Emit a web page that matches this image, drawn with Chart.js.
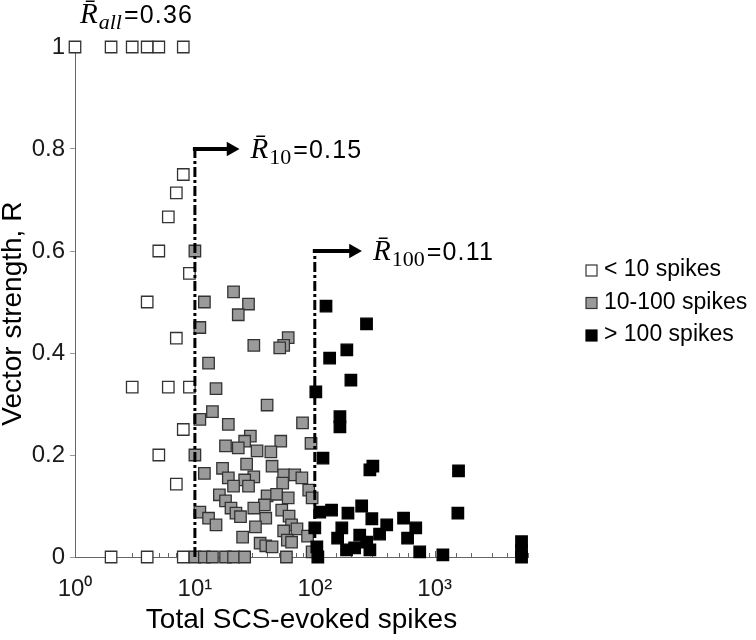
<!DOCTYPE html>
<html><head><meta charset="utf-8">
<script src="https://cdn.jsdelivr.net/npm/chart.js@4"></script>
<style>html,body{margin:0;padding:0;background:#fff}#wrap{width:756px;height:640px}</style>
</head><body><div id="wrap"><canvas id="c" width="756" height="640"></canvas></div>
<script>
// ---- data ----
const lowCounts = [1,2,3,4,5,8, 8,7,6,5,9,4,7, 3,6,9,8,5,7, 2,4,8];
const lowR      = [1,1,1,1,1,1, 0.75,0.714,0.667,0.6,0.556,0.5,0.429, 0.333,0.333,0.333,0.25,0.2,0.143, 0,0,0];

const midCounts = [10,12,21,28,23,11,31,60,55,51,13,15,40,14,
  11,19,79,29,26,18,23,52,33,43,93,10,27,12,17,44,19,31,26,21,28,55,68,78,54,89,16,40,48,60,95,18,20,38,31,22,53,11,24,39,61,13,15,32,64,71,55,25,87,59,64,35,39,44,95,
  10,12,14,18,21,26,58];
const midR = [0.6,0.5,0.52,0.496,0.475,0.45,0.415,0.43,0.415,0.41,0.38,0.33,0.298,0.285,
  0.27,0.26,0.263,0.237,0.227,0.218,0.214,0.227,0.208,0.206,0.223,0.2,0.182,0.164,0.174,0.178,0.155,0.157,0.151,0.139,0.139,0.161,0.161,0.155,0.145,0.131,0.122,0.12,0.123,0.116,0.116,0.11,0.096,0.102,0.096,0.086,0.092,0.088,0.079,0.076,0.08,0.076,0.063,0.059,0.063,0.055,0.051,0.039,0.041,0.033,0.029,0.027,0.022,0.02,0.01,
  0,0,0,0,0,0,0];

const highCounts = [124,270,133,185,200,102,162,162,117,305,288,1580,1560,
  110,138,189,246,299,550,398,695,168,100,237,347,594,155,271,184,215,288,104,106,750,1170,5300,5300,5300];
const highR = [0.492,0.457,0.39,0.406,0.347,0.324,0.275,0.255,0.194,0.178,0.171,0.169,0.086,
  0.088,0.092,0.086,0.1,0.075,0.076,0.063,0.057,0.057,0.057,0.043,0.045,0.037,0.037,0.029,0.014,0.018,0.014,0.02,0,0.01,0.004,0.03,0.013,0];

const thresholds = [10, 100];        // spike-count cut-offs
const thresholdR = [0.8, 0.6];       // height of the threshold markers
const arrowEnds  = [20, 210];        // arrow head positions (spikes)
const meanSubs   = ['all', '10', '100'];
const meanValues = [0.36, 0.15, 0.11];
const legendLabels = ['< 10 spikes', '10-100 spikes', '> 100 spikes'];
const xTickValues = [1, 10, 100, 1000];
const xTickLabels = ['10\u2070', '10\u00B9', '10\u00B2', '10\u00B3'];
const yTickLabels = ['0', '0.2', '0.4', '0.6', '0.8', '1'];

// ---- chart ----
const SANS = '"Liberation Sans", Arial, sans-serif';
const SERIF = '"Liberation Serif", "Times New Roman", serif';
Chart.defaults.font.family = SANS;

function pts(xs, ys){ return xs.map((x,i)=>({x, y: ys[i]})); }
function markers(label, xs, ys, fill, border){
  return { label, data: pts(xs, ys), pointStyle:'rect', pointRadius:8.1, pointHoverRadius:8.1,
    backgroundColor: fill, borderColor: border, pointBorderWidth:1.3, showLine:false, clip:false };
}
function threshLine(i){
  return { label:'t'+i, data:[{x:thresholds[i],y:0},{x:thresholds[i],y:thresholdR[i]}], showLine:true,
    pointRadius:0, borderColor:'#000', borderWidth:3, borderDash:[10,3,3,3], borderCapStyle:'butt', clip:false };
}
function arrow(i){
  return { label:'a'+i, data:[{x:thresholds[i],y:thresholdR[i]},{x:arrowEnds[i],y:thresholdR[i]}], showLine:true,
    pointRadius:[0,8.5], pointStyle:'triangle', rotation:90, pointBackgroundColor:'#000', pointBorderColor:'#000',
    pointBorderWidth:0, borderColor:'#000', borderWidth:4, borderCapStyle:'square', clip:false };
}

const datasets = [
  arrow(0), arrow(1), threshLine(0), threshLine(1),
  markers(legendLabels[2], highCounts, highR, '#000000', '#000000'),
  markers(legendLabels[1], midCounts, midR, '#9a9a9a', '#333333'),
  markers(legendLabels[0], lowCounts, lowR, '#ffffff', '#333333')
];

function drawMean(ctx, x0, base, sub, italicSub, value){
  ctx.fillStyle = '#000'; ctx.textAlign = 'left'; ctx.textBaseline = 'alphabetic';
  ctx.font = 'italic 29px ' + SERIF;
  ctx.fillText('R\u0304', x0, base);
  let x = x0 + ctx.measureText('R').width + 1;
  ctx.font = (italicSub ? 'italic ' : '') + '22px ' + SERIF;
  ctx.fillText(sub, x, base + 6);
  x += ctx.measureText(sub).width + 2;
  ctx.font = '25px ' + SANS;
  if ('letterSpacing' in ctx) ctx.letterSpacing = '1.2px';
  ctx.fillText('=' + value.toFixed(2), x, base);
  if ('letterSpacing' in ctx) ctx.letterSpacing = '0px';
}

const deco = {
  id: 'deco',
  beforeDatasetsDraw(chart){
    const {ctx, chartArea, scales:{x}} = chart;
    ctx.save();
    ctx.strokeStyle = '#666'; ctx.lineWidth = 1;
    x.ticks.forEach(t => {
      const px = Math.round(x.getPixelForValue(t.value)) + 0.5;
      const len = xTickValues.includes(t.value) ? 6 : 4;
      ctx.beginPath(); ctx.moveTo(px, chartArea.bottom); ctx.lineTo(px, chartArea.bottom - len); ctx.stroke();
    });
    ctx.restore();
  },
  afterDatasetsDraw(chart){
    const {ctx, chartArea, scales:{x, y}} = chart;
    ctx.save();
    drawMean(ctx, x.getPixelForValue(1) + 5, y.getPixelForValue(1) - 24, meanSubs[0], true, meanValues[0]);
    for (let i = 0; i < 2; i++){
      const tip = chart.getDatasetMeta(i).data[1];
      drawMean(ctx, tip.x + 8.5 + 11, tip.y + 9, meanSubs[i+1], false, meanValues[i+1]);
    }
    const order = [6, 5, 4];
    ctx.font = '23px ' + SANS; ctx.textBaseline = 'middle'; ctx.textAlign = 'left';
    order.forEach((di, k) => {
      const d = chart.data.datasets[di];
      const cy = chartArea.top + 223 + k * 32.5;
      const bx = chartArea.right + 58;
      ctx.fillStyle = d.backgroundColor; ctx.strokeStyle = d.borderColor; ctx.lineWidth = 1.2;
      ctx.fillRect(bx, cy - 5, 11, 11); ctx.strokeRect(bx, cy - 5, 11, 11);
      ctx.fillStyle = '#000';
      ctx.fillText(legendLabels[k], chartArea.right + 76, cy);
    });
    ctx.restore();
  }
};

new Chart(document.getElementById('c'), {
  type: 'scatter',
  data: { datasets },
  plugins: [deco],
  options: {
    responsive: false, animation: false, events: [], devicePixelRatio: 1,
    layout: { padding: { left: 0, right: 228, top: 47, bottom: 0 } },
    plugins: { legend: { display: false }, tooltip: { enabled: false } },
    scales: {
      x: {
        type: 'logarithmic', min: 1, max: 6000, position: 'bottom',
        border: { color: '#666', width: 1 },
        grid: { drawOnChartArea: false, drawTicks: false },
        ticks: { autoSkip: false, maxRotation: 0, minRotation: 0, padding: 18, color: '#1a1a1a',
          font: { size: 24 },
          callback: (v) => { const i = xTickValues.indexOf(Number(v)); return i >= 0 ? xTickLabels[i] : ''; } },
        title: { display: true, text: 'Total SCS-evoked spikes', color: '#000', font: { size: 28, lineHeight: 1.2 }, padding: { top: 0, bottom: 3 } },
        afterFit(s){ s.height = 83; }
      },
      y: {
        min: 0, max: 1,
        border: { color: '#666', width: 1 },
        grid: { drawOnChartArea: false, drawTicks: true, tickLength: 5, color: '#999' },
        ticks: { stepSize: 0.2, padding: 5, color: '#1a1a1a', font: { size: 24 },
          callback: (v, i) => yTickLabels[i] },
        title: { display: true, text: 'Vector strength, R   ', color: '#000', font: { size: 28, lineHeight: 0.93 }, padding: { top: 0, bottom: 0 } },
        afterFit(s){ s.width = 75; }
      }
    }
  }
});
</script></body></html>
